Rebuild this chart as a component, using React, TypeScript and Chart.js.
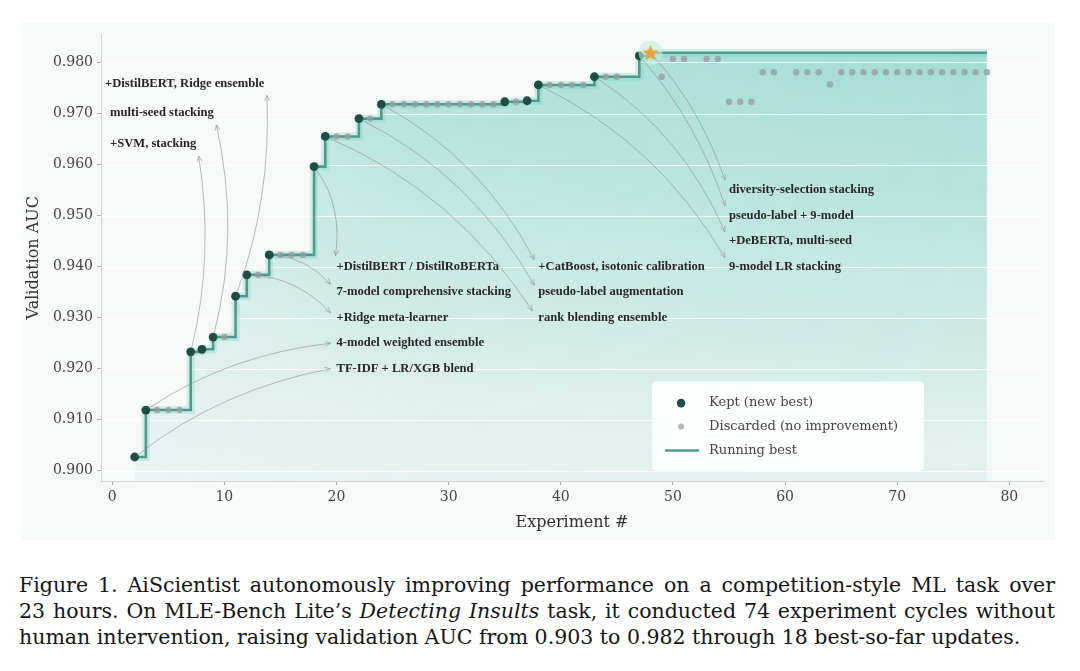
import React, { useEffect, useRef } from "react";
import { Chart, registerables } from "chart.js";

Chart.register(...registerables);

// ---------------- data ----------------
const keptExperiments = [2, 3, 7, 8, 9, 11, 12, 14, 18, 19, 22, 24, 35, 37, 38, 43, 47];
const keptAuc = [0.9027, 0.9119, 0.9233, 0.9238, 0.9262, 0.9342, 0.9384, 0.9423, 0.9596, 0.9655, 0.969, 0.9718, 0.9723, 0.9725, 0.9756, 0.9772, 0.9813];

const finalBestExperiment = [48];
const finalBestAuc = [0.9819];

const discardedExperiments = [
  4, 5, 6, 10, 13, 15, 16, 17, 20, 21, 23,
  25, 26, 27, 28, 29, 30, 31, 32, 33, 34, 36,
  39, 40, 41, 42, 44, 45, 49, 50, 51, 53, 54,
  55, 56, 57, 58, 59, 61, 62, 63, 64,
  65, 66, 67, 68, 69, 70, 71, 72, 73, 74, 75, 76, 77, 78,
];
const discardedAuc = [
  0.9119, 0.9119, 0.9119, 0.9262, 0.9384, 0.9423, 0.9423, 0.9423, 0.9655, 0.9655, 0.969,
  0.9718, 0.9718, 0.9718, 0.9718, 0.9718, 0.9718, 0.9718, 0.9718, 0.9718, 0.9718, 0.9723,
  0.9756, 0.9756, 0.9756, 0.9756, 0.9772, 0.9772, 0.9772, 0.9807, 0.9807, 0.9807, 0.9807,
  0.9723, 0.9723, 0.9723, 0.9781, 0.9781, 0.9781, 0.9781, 0.9781, 0.9757,
  0.9781, 0.9781, 0.9781, 0.9781, 0.9781, 0.9781, 0.9781, 0.9781, 0.9781, 0.9781, 0.9781, 0.9781, 0.9781, 0.9781,
];

const xTicks = [0, 10, 20, 30, 40, 50, 60, 70, 80];
const xTickLabels = ["0", "10", "20", "30", "40", "50", "60", "70", "80"];
const yTicks = [0.9, 0.91, 0.92, 0.93, 0.94, 0.95, 0.96, 0.97, 0.98];
const yTickLabels = ["0.900", "0.910", "0.920", "0.930", "0.940", "0.950", "0.960", "0.970", "0.980"];

const annotationExperiments = [2, 3, 7, 9, 11, 12, 14, 18, 19, 22, 24, 38, 43, 47, 48];
const annotationTexts = [
  "TF-IDF + LR/XGB blend",
  "4-model weighted ensemble",
  "+SVM, stacking",
  "multi-seed stacking",
  "+DistilBERT, Ridge ensemble",
  "+Ridge meta-learner",
  "7-model comprehensive stacking",
  "+DistilBERT / DistilRoBERTa",
  "rank blending ensemble",
  "pseudo-label augmentation",
  "+CatBoost, isotonic calibration",
  "9-model LR stacking",
  "+DeBERTa, multi-seed",
  "pseudo-label + 9-model",
  "diversity-selection stacking",
];

const legendLabels = ["Kept (new best)", "Discarded (no improvement)", "Running best"];

// ---------------- layout (positions / styles) ----------------
type AnnLayout = { x: number; y: number; below?: boolean; tipDx?: number; tipDy?: number; rad: number };
const annotationLayout: AnnLayout[] = [
  { x: 20, y: 0.920, tipDx: -6, tipDy: 0, rad: -0.12 },
  { x: 20, y: 0.925, tipDx: -6, tipDy: 0, rad: -0.12 },
  { x: -0.2, y: 0.964, below: true, rad: 0.1 },
  { x: -0.2, y: 0.9701, below: true, rad: 0.12 },
  { x: -0.64, y: 0.9759, below: true, rad: 0.1 },
  { x: 20, y: 0.930, tipDx: -6, tipDy: -5, rad: -0.2 },
  { x: 20, y: 0.935, tipDx: -6, tipDy: -8, rad: -0.2 },
  { x: 20, y: 0.940, tipDx: -1, tipDy: -11, rad: -0.2 },
  { x: 38, y: 0.930, tipDx: -6, tipDy: -7, rad: -0.15 },
  { x: 38, y: 0.935, tipDx: -4, tipDy: -7, rad: -0.15 },
  { x: 38, y: 0.940, tipDx: -4, tipDy: -7, rad: -0.15 },
  { x: 55, y: 0.940, tipDx: -4, tipDy: -9, rad: -0.15 },
  { x: 55, y: 0.945, tipDx: -4, tipDy: -9, rad: -0.15 },
  { x: 55, y: 0.950, tipDx: -4, tipDy: -10, rad: -0.1 },
  { x: 55, y: 0.955, tipDx: -4, tipDy: -10, rad: -0.1 },
];

const KEPT_COLOR = "#1f4d43";
const DISC_COLOR = "rgba(150,158,156,0.8)";
const LINE_COLOR = "#4d9a8b";
const SERIF = '"DejaVu Serif", serif';
const ANN_FONT = 'bold 12.6px "Liberation Serif", serif';

// ---------------- helpers ----------------
function buildRunningBest() {
  const all: { x: number; y: number }[] = [];
  keptExperiments.forEach((e, i) => all.push({ x: e, y: keptAuc[i] }));
  finalBestExperiment.forEach((e, i) => all.push({ x: e, y: finalBestAuc[i] }));
  discardedExperiments.forEach((e, i) => all.push({ x: e, y: discardedAuc[i] }));
  all.sort((a, b) => a.x - b.x);
  let best = -Infinity;
  return all.map((p) => {
    best = Math.max(best, p.y);
    return { x: p.x, y: best };
  });
}

function aucOf(exp: number): number {
  const k = keptExperiments.indexOf(exp);
  if (k >= 0) return keptAuc[k];
  const f = finalBestExperiment.indexOf(exp);
  if (f >= 0) return finalBestAuc[f];
  return discardedAuc[discardedExperiments.indexOf(exp)];
}

function makeStar(): HTMLCanvasElement {
  const c = document.createElement("canvas");
  c.width = 22;
  c.height = 22;
  const g = c.getContext("2d")!;
  g.beginPath();
  for (let i = 0; i < 10; i++) {
    const r = i % 2 === 0 ? 8.5 : 3.7;
    const a = -Math.PI / 2 + (i * Math.PI) / 5;
    const px = 11 + r * Math.cos(a);
    const py = 11.5 + r * Math.sin(a);
    if (i === 0) g.moveTo(px, py);
    else g.lineTo(px, py);
  }
  g.closePath();
  g.fillStyle = "#e9a23b";
  g.fill();
  return c;
}

let patternCache: { key: string; pat: CanvasPattern | null } | null = null;
function fillPattern(chart: any) {
  const ca = chart.chartArea;
  if (!ca) return "transparent";
  const key = `${ca.left},${ca.top},${ca.right},${ca.bottom}`;
  if (patternCache && patternCache.key === key) return patternCache.pat;
  const c = document.createElement("canvas");
  c.width = chart.width;
  c.height = chart.height;
  const g = c.getContext("2d")!;
  const vg = g.createLinearGradient(0, ca.top, 0, ca.bottom);
  vg.addColorStop(0, "rgba(72,192,172,0.50)");
  vg.addColorStop(0.5, "rgba(72,192,172,0.31)");
  vg.addColorStop(1, "rgba(72,192,172,0.10)");
  g.fillStyle = vg;
  g.fillRect(ca.left, ca.top, ca.right - ca.left, ca.bottom - ca.top);
  g.globalCompositeOperation = "destination-in";
  const hg = g.createLinearGradient(ca.left, 0, ca.right, 0);
  hg.addColorStop(0, "rgba(0,0,0,0.55)");
  hg.addColorStop(0.35, "rgba(0,0,0,0.85)");
  hg.addColorStop(1, "rgba(0,0,0,1)");
  g.fillStyle = hg;
  g.fillRect(ca.left, ca.top, ca.right - ca.left, ca.bottom - ca.top);
  const pat = chart.ctx.createPattern(c, "no-repeat");
  patternCache = { key, pat };
  return pat;
}

const overlayPlugin = {
  id: "overlay",
  afterDatasetDraw(chart: any, args: any) {
    if (args.index !== 0) return;
    const { ctx, chartArea: ca, scales } = chart;
    ctx.save();
    ctx.strokeStyle = "rgba(255,255,255,0.8)";
    ctx.lineWidth = 1;
    yTicks.forEach((v) => {
      const py = Math.round(scales.y.getPixelForValue(v)) + 0.5;
      ctx.beginPath();
      ctx.moveTo(ca.left, py);
      ctx.lineTo(ca.right, py);
      ctx.stroke();
    });
    ctx.restore();
  },
  afterDraw(chart: any) {
    const { ctx, chartArea: ca, scales } = chart;
    const xs = scales.x;
    const ys = scales.y;
    ctx.save();
    ctx.font = ANN_FONT;
    // arrows
    annotationExperiments.forEach((exp, i) => {
      const L = annotationLayout[i];
      const ax0 = xs.getPixelForValue(exp);
      const ay0 = ys.getPixelForValue(aucOf(exp));
      const lx = xs.getPixelForValue(L.x);
      const ly = ys.getPixelForValue(L.y);
      const w = ctx.measureText(annotationTexts[i]).width;
      let bx: number, by: number;
      if (L.below) {
        bx = lx + w + 2.5;
        by = ly + 12;
      } else {
        bx = lx + (L.tipDx || 0);
        by = ly + (L.tipDy || 0);
      }
      const dX = bx - ax0;
      const dY = by - ay0;
      const mx = (ax0 + bx) / 2;
      const my = (ay0 + by) / 2;
      const cx = mx - L.rad * dY;
      const cy = my + L.rad * dX;
      const sdx = cx - ax0;
      const sdy = cy - ay0;
      const sl = Math.hypot(sdx, sdy) || 1;
      const ax = ax0 + (sdx / sl) * 5;
      const ay = ay0 + (sdy / sl) * 5;
      ctx.strokeStyle = "rgba(140,140,140,0.75)";
      ctx.lineWidth = 0.8;
      ctx.beginPath();
      ctx.moveTo(ax, ay);
      ctx.quadraticCurveTo(cx, cy, bx, by);
      ctx.stroke();
      const tx = bx - cx;
      const ty = by - cy;
      const tl = Math.hypot(tx, ty) || 1;
      const ux = tx / tl;
      const uy = ty / tl;
      const hl = 6;
      const ang = 0.42;
      ctx.beginPath();
      ctx.moveTo(bx - hl * (ux * Math.cos(ang) - uy * Math.sin(ang)), by - hl * (uy * Math.cos(ang) + ux * Math.sin(ang)));
      ctx.lineTo(bx, by);
      ctx.lineTo(bx - hl * (ux * Math.cos(-ang) - uy * Math.sin(-ang)), by - hl * (uy * Math.cos(-ang) + ux * Math.sin(-ang)));
      ctx.stroke();
    });
    // labels
    ctx.fillStyle = "#262626";
    ctx.textBaseline = "middle";
    ctx.textAlign = "left";
    annotationExperiments.forEach((_exp, i) => {
      const L = annotationLayout[i];
      ctx.fillText(annotationTexts[i], xs.getPixelForValue(L.x), ys.getPixelForValue(L.y));
    });

    // legend
    const bx = ca.left + 0.585 * (ca.right - ca.left);
    const by = ca.top + 0.777 * (ca.bottom - ca.top);
    const bw = 272;
    const bh = 89;
    ctx.fillStyle = "rgba(255,255,255,0.94)";
    ctx.beginPath();
    (ctx as any).roundRect(bx, by, bw, bh, 4);
    ctx.fill();
    const rows = [21.7, 45, 69];
    ctx.font = `13px ${SERIF}`;
    ctx.fillStyle = KEPT_COLOR;
    ctx.beginPath();
    ctx.arc(bx + 29, by + rows[0], 4.3, 0, Math.PI * 2);
    ctx.fill();
    ctx.fillStyle = "rgba(175,180,179,1)";
    ctx.beginPath();
    ctx.arc(bx + 29, by + rows[1], 3, 0, Math.PI * 2);
    ctx.fill();
    ctx.strokeStyle = LINE_COLOR;
    ctx.lineWidth = 2.5;
    ctx.beginPath();
    ctx.moveTo(bx + 13, by + rows[2]);
    ctx.lineTo(bx + 47, by + rows[2]);
    ctx.stroke();
    ctx.fillStyle = "#444";
    ctx.textBaseline = "middle";
    legendLabels.forEach((t, i) => ctx.fillText(t, bx + 57, by + rows[i]));
    ctx.restore();
  },
};

export default function App() {
  const ref = useRef<HTMLCanvasElement>(null);
  useEffect(() => {
    const runningBest = buildRunningBest();
    const star = makeStar();
    const chart = new Chart(ref.current!, {
      type: "line",
      data: {
        datasets: [
          {
            label: "fill",
            data: runningBest,
            stepped: "before",
            fill: "start",
            backgroundColor: (c: any) => fillPattern(c.chart),
            borderColor: "transparent",
            borderWidth: 0,
            pointRadius: 0,
            order: 10,
          },
          {
            label: "glow",
            data: runningBest,
            stepped: "before",
            fill: false,
            borderColor: "rgba(110,205,185,0.28)",
            borderWidth: 8,
            pointRadius: 0,
            order: 9,
          },
          {
            label: legendLabels[2],
            data: runningBest,
            stepped: "before",
            fill: false,
            borderColor: LINE_COLOR,
            borderWidth: 2.6,
            pointRadius: 0,
            order: 8,
          },
          {
            label: legendLabels[1],
            data: discardedExperiments.map((e, i) => ({ x: e, y: discardedAuc[i] })),
            showLine: false,
            pointRadius: 3.2,
            pointBackgroundColor: DISC_COLOR,
            pointBorderWidth: 0,
            order: 7,
          },
          {
            label: legendLabels[0],
            data: keptExperiments.map((e, i) => ({ x: e, y: keptAuc[i] })),
            showLine: false,
            pointRadius: 4.4,
            pointBackgroundColor: KEPT_COLOR,
            pointBorderWidth: 0,
            order: 6,
          },
          {
            label: "star-glow",
            data: finalBestExperiment.map((e, i) => ({ x: e, y: finalBestAuc[i] })),
            showLine: false,
            pointRadius: 12,
            pointBackgroundColor: "rgba(195,238,220,0.6)",
            pointBorderWidth: 0,
            order: 5,
          },
          {
            label: "star",
            data: finalBestExperiment.map((e, i) => ({ x: e, y: finalBestAuc[i] })),
            showLine: false,
            pointStyle: star as any,
            pointRadius: 8,
            order: 4,
          },
        ] as any,
      },
      options: {
        responsive: false,
        animation: false,
        events: [],
        layout: { padding: { top: 11, right: 10, bottom: 0, left: 0 } },
        plugins: { legend: { display: false }, tooltip: { enabled: false } },
        scales: {
          x: {
            type: "linear",
            min: -1,
            max: 83,
            afterBuildTicks: (s: any) => {
              s.ticks = xTicks.map((v) => ({ value: v }));
            },
            afterFit: (s: any) => {
              s.height = 59;
            },
            ticks: {
              autoSkip: false,
              maxRotation: 0,
              padding: 4,
              color: "#444",
              font: { family: SERIF, size: 14 },
              callback: (_v: any, i: number) => xTickLabels[i],
            },
            grid: { drawOnChartArea: false, tickLength: 4, tickColor: "#aaa" },
            border: { color: "#d2d4d4", width: 1 },
            title: {
              display: true,
              text: "Experiment #",
              color: "#333",
              font: { family: SERIF, size: 16 },
              padding: { top: 0, bottom: 8 },
            },
          },
          y: {
            type: "linear",
            min: 0.898,
            max: 0.9855,
            afterBuildTicks: (s: any) => {
              s.ticks = yTicks.map((v) => ({ value: v }));
            },
            afterFit: (s: any) => {
              s.width = 79;
            },
            ticks: {
              autoSkip: false,
              padding: 4,
              color: "#444",
              font: { family: SERIF, size: 14 },
              callback: (_v: any, i: number) => yTickLabels[i],
            },
            grid: { drawOnChartArea: false, tickLength: 4, tickColor: "#aaa" },
            border: { color: "#d2d4d4", width: 1 },
            title: {
              display: true,
              text: "Validation AUC",
              color: "#333",
              font: { family: SERIF, size: 16 },
              padding: { top: 2, bottom: 0 },
            },
          },
        },
      } as any,
      plugins: [overlayPlugin as any],
    });
    return () => chart.destroy();
  }, []);

  const lineStyle: React.CSSProperties = { textAlign: "justify", textAlignLast: "justify", whiteSpace: "nowrap" };
  return (
    <div style={{ position: "absolute", left: 0, top: 0, width: 1080, height: 671, background: "#fff", overflow: "hidden" }}>
      <div style={{ position: "absolute", left: 22, top: 22, width: 1033, height: 518, background: "#f7f8f8" }}>
        <canvas ref={ref} width={1033} height={518} style={{ display: "block", width: 1033, height: 518 }} />
      </div>
      <div
        style={{
          position: "absolute",
          left: 19,
          top: 572,
          width: 1036,
          fontFamily: SERIF,
          fontSize: 20.5,
          lineHeight: "26px",
          color: "#151515",
        }}
      >
        <div style={lineStyle}>Figure 1. AiScientist autonomously improving performance on a competition-style ML task over</div>
        <div style={lineStyle}>
          23 hours. On MLE-Bench Lite’s <i>Detecting Insults</i> task, it conducted 74 experiment cycles without
        </div>
        <div style={{ whiteSpace: "nowrap" }}>
          human intervention, raising validation AUC from 0.903 to 0.982 through 18 best-so-far updates.
        </div>
      </div>
    </div>
  );
}
